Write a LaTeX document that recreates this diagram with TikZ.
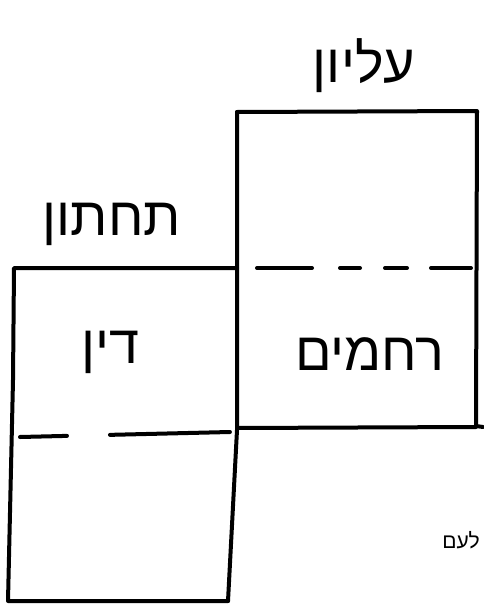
\documentclass[tikz,border=0pt]{standalone}
\usepackage{fontspec}
\newfontfamily\hebfont[Script=Hebrew]{Liberation Sans}
\TeXXeTstate=1
\usetikzlibrary{positioning}
\tikzset{
  wall/.style={line width=4pt, line cap=round, line join=round},
  split/.style={line width=4pt, line cap=round},
  hand/.style={font=\hebfont\fontsize{54}{58}\selectfont, inner sep=0pt},
  note/.style={font=\hebfont\fontsize{21}{23}\selectfont, inner sep=0pt},
}
\begin{document}
\begin{tikzpicture}[x=1pt,y=-1pt]
  \useasboundingbox (0,0) rectangle (483,605);
  % upper column
  \draw[wall] (237,112) -- (477,111) -- (476,426) -- (483,427);
  \draw[wall] (237,428) -- (476,427);
  \draw[wall] (237,112) -- (237,430) -- (228,601);
  % lower column
  \draw[wall] (237,268) -- (14,268) -- (13,380) -- (8,601) -- (228,601);
  % dashed middles
  \draw[split, dash pattern=on 55pt off 28pt on 20pt off 25pt on 22pt off 24pt on 40pt] (257,268) -- (472,268);
  \draw[split, dash pattern=on 47pt off 43pt on 120pt] (20,437) -- (230,432);
  % labels
  \node[hand] (elyon) at (364,66) {\beginR עליון\endR};
  \node[hand] (tachton) at (112,224) {\beginR תחתון\endR};
  \node[hand] (din) at (110,352) {\beginR דין\endR};
  \node[hand] (rachamim) at (370,354) {\beginR רחמים\endR};
  \node[note] (laam) at (461,540) {\beginR לעם\endR};
\end{tikzpicture}
\end{document}
